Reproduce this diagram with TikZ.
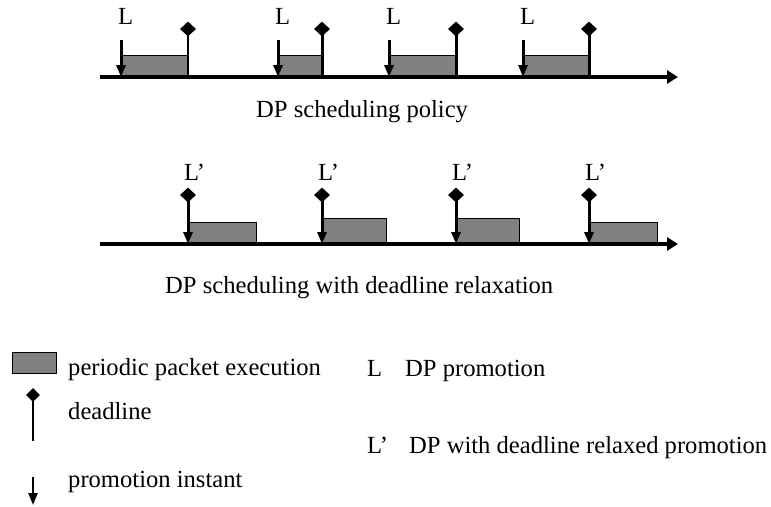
\documentclass[tikz,border=0pt]{standalone}
\usepackage{fontspec}
\setmainfont{Liberation Serif}
\usetikzlibrary{arrows.meta, positioning, shapes.geometric}
\definecolor{pktgray}{RGB}{128,128,128}

\begin{document}
\begin{tikzpicture}[x=1pt, y=-1pt,
  lbl/.style={font=\fontsize{24.6}{28}\selectfont, inner sep=0pt, anchor=base west},
  pkt/.style={draw, line width=1pt, fill=pktgray},
  axis/.style={line width=3.5pt, -{Triangle[length=11pt, width=13pt]}},
  prom/.style={line width=3pt, -{Triangle[length=12pt, width=9pt]}},
  dline/.style={line width=3pt},
  dmark/.style={diamond, fill=black, inner sep=0pt, minimum width=16pt, minimum height=15pt}
]
  \useasboundingbox (0,0) rectangle (771,506);

  % DP scheduling policy
  \draw[pkt] (121,55) rectangle (188,77);
  \draw[pkt] (278,55) rectangle (322,77);
  \draw[pkt] (389,55) rectangle (456,77);
  \draw[pkt] (523,55) rectangle (589,77);
  \coordinate (ta) at (100,77);
  \coordinate (tb) at (678,77);
  \draw[axis] (ta) -- (tb);
  \foreach \p/\d [count=\i] in {121/188, 278/322, 389/456, 523/589} {
    \node[lbl] (tl\i) at (\p-3,24) {L};
    \coordinate (tp\i) at (\p,40);
    \coordinate (tq\i) at (\p,77);
    \draw[prom] (tp\i) -- (tq\i);
    \node[dmark] (td\i) at (\d,29) {};
    \coordinate (te\i) at (\d,77);
  }
  \draw[line width=1.5pt] (td1.center) -- (te1);
  \foreach \i in {2,3,4} \draw[dline] (td\i.center) -- (te\i);
  \node[lbl] (cap1) at (256,117) {DP scheduling policy};

  % DP scheduling with deadline relaxation
  \draw[pkt] (188,222) rectangle (256,244);
  \draw[pkt] (322,218) rectangle (386,244);
  \draw[pkt] (456,218) rectangle (519,244);
  \draw[pkt] (589,222) rectangle (657,244);
  \coordinate (ba) at (100,244);
  \coordinate (bb) at (678,244);
  \draw[axis] (ba) -- (bb);
  \foreach \d [count=\i] in {188, 322, 456, 589} {
    \node[lbl] (bl\i) at (\d-4,180) {L’};
    \node[dmark] (bd\i) at (\d,195) {};
    \coordinate (be\i) at (\d,244);
    \draw[prom] (bd\i.center) -- (be\i);
  }
  \node[lbl] (cap2) at (165,293) {DP scheduling with deadline relaxation};

  % legend
  \draw[pkt] (12,352) rectangle (56,373);
  \node[lbl] (lgpkt) at (68,375) {periodic packet execution};
  \node[dmark, minimum width=14pt, minimum height=14pt] (lgd) at (33,395) {};
  \coordinate (lgde) at (33,441);
  \draw[line width=1.2pt] (lgd.center) -- (lgde);
  \node[lbl] (lgdl) at (68,419) {deadline};
  \coordinate (lgpa) at (33,477);
  \coordinate (lgpb) at (33,505);
  \draw[prom, line width=2.5pt] (lgpa) -- (lgpb);
  \node[lbl] (lgpi) at (68,487) {promotion instant};
  \node[lbl] (lgL) at (367,376) {L};
  \node[lbl] (lgLt) at (405,376) {DP promotion};
  \node[lbl] (lgLp) at (367,453) {L’};
  \node[lbl] (lgLpt) at (409,453) {DP with deadline relaxed promotion};
\end{tikzpicture}
\end{document}
